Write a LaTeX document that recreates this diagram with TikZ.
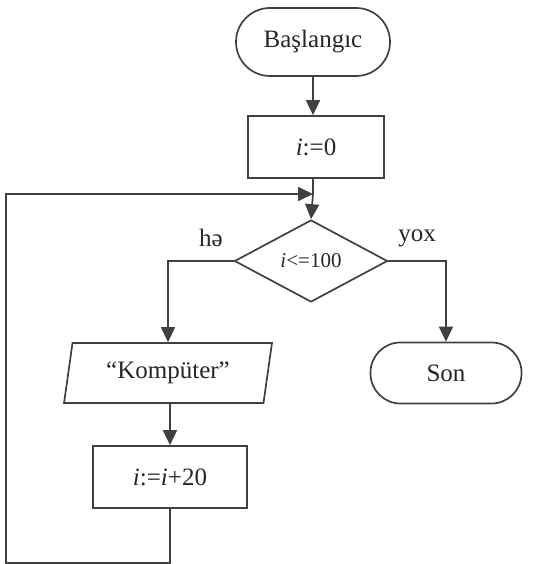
\documentclass[tikz,border=0pt]{standalone}
\usepackage{fontspec}
\setmainfont{Liberation Serif}
\usepackage{tikz}
\usetikzlibrary{shapes.geometric,arrows.meta}

\begin{document}
\begin{tikzpicture}[x=1pt, y=-1pt,
		line width=1.7pt, draw=black!75,
		every node/.style={font=\fontsize{25}{30}\selectfont, text=black!85},
		term/.style={draw, rectangle, inner sep=0pt},
		proc/.style={draw, rectangle, inner sep=0pt},
		flow/.style={-{Triangle[length=15pt, width=14pt]}}]
	\useasboundingbox (0,0) rectangle (534,564);

	% bloklar
	\node[term, minimum width=154, minimum height=68, rounded corners=34] (start) at (313,42) {Başlangıc};
	\node[proc, minimum width=136, minimum height=62] (init) at (316,147) {\textit{i}:=0};
	\node[draw, diamond, aspect=1.87, inner sep=0pt, minimum width=153, minimum height=82,
		font=\fontsize{21}{25}\selectfont] (cond) at (311,261) {\textit{i}<=100};
	\node[draw, trapezium, trapezium left angle=76, trapezium right angle=104,
		trapezium stretches=true, inner sep=0pt, minimum width=208, minimum height=60] (print) at (168,373) {“Kompüter”};
	\node[term, minimum width=151, minimum height=61, rounded corners=30] (stop) at (446,373) {Son};
	\node[proc, minimum width=154, minimum height=62] (incr) at (170,477) {\textit{i}:=\textit{i}+20};

	\node (yes) at (211,238) {hə};
	\node (no) at (417,238) {yox};

	\coordinate (join) at (313,194);
	\coordinate (corner) at (6,563);

	% oxlar
	\draw[flow] (start) -- (start |- init.north);
	\draw (init.south -| join) -- (join);
	\draw[flow] (join) -- (cond.north);
	\draw[flow] (cond.west) -| (print.north);
	\draw[flow] (cond.east) -| (stop.north);
	\draw[flow] (print.south -| incr) -- (incr.north);
	% dövr
	\draw[flow] (incr.south) |- (corner) |- (join);
\end{tikzpicture}
\end{document}
